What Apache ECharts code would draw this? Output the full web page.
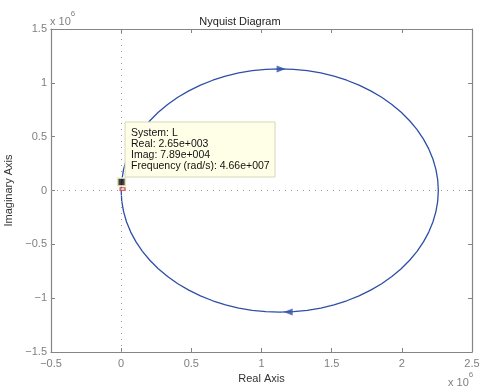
<!DOCTYPE html>
<html>
<head>
<meta charset="utf-8">
<script src="https://cdn.jsdelivr.net/npm/echarts@6/dist/echarts.min.js"></script>
<style>
  html, body { margin: 0; padding: 0; background: #fff; }
  #chart { width: 480px; height: 387px; }
</style>
</head>
<body>
<div id="chart"></div>
<script>
// Nyquist curve of L(jw), values in units of 1e6
// negative frequencies (upper half, origin -> right)
const upperRe = [0, 0.00265, 0.0172, 0.0385, 0.0681, 0.1059, 0.1514, 0.2043, 0.2644, 0.331, 0.4037, 0.4818, 0.565, 0.6525, 0.7435, 0.8376, 0.9338, 1.0315, 1.13,
                 1.2285, 1.3262, 1.4224, 1.5165, 1.6075, 1.695, 1.7782, 1.8563, 1.929, 1.9956, 2.0557, 2.1086, 2.1541, 2.1919, 2.2215, 2.2428, 2.2557, 2.26];
const upperIm = [0, 0.0789, 0.1962, 0.2924, 0.3865, 0.4775, 0.565, 0.6482, 0.7264, 0.799, 0.8656, 0.9257, 0.9786, 1.0241, 1.0619, 1.0915, 1.1128, 1.1257, 1.13,
                 1.1257, 1.1128, 1.0915, 1.0619, 1.0241, 0.9786, 0.9257, 0.8656, 0.799, 0.7264, 0.6482, 0.565, 0.4775, 0.3865, 0.2924, 0.1962, 0.0985, 0];
// positive frequencies (lower half, right -> origin)
const lowerRe = [2.26, 2.2557, 2.2428, 2.2215, 2.1919, 2.1541, 2.1086, 2.0557, 1.9956, 1.929, 1.8563, 1.7782, 1.695, 1.6075, 1.5165, 1.4224, 1.3262, 1.2285, 1.13,
                 1.0315, 0.9338, 0.8376, 0.7435, 0.6525, 0.565, 0.4818, 0.4037, 0.331, 0.2644, 0.2043, 0.1514, 0.1059, 0.0681, 0.0385, 0.0172, 0.0043, 0];
const lowerIm = [0, -0.0985, -0.1962, -0.2924, -0.3865, -0.4775, -0.565, -0.6482, -0.7264, -0.799, -0.8656, -0.9257, -0.9786, -1.0241, -1.0619, -1.0915, -1.1128, -1.1257, -1.13,
                 -1.1257, -1.1128, -1.0915, -1.0619, -1.0241, -0.9786, -0.9257, -0.8656, -0.799, -0.7264, -0.6482, -0.565, -0.4775, -0.3865, -0.2924, -0.1962, -0.0985, 0];

// direction arrows on the curve
const arrowRe = [1.14, 1.19];
const arrowIm = [1.128, -1.128];
const arrowRot = [-90, 90];

// data tip
const tipPoint = [0.00265, 0.0789];
const tipPointer = [0.01, 0.012];
const tipLines = ['System: L', 'Real: 2.65e+003', 'Imag: 7.89e+004', 'Frequency (rad/s): 4.66e+007'];

const xTicks = { min: -0.5, max: 2.5, step: 0.5 };
const yTicks = { min: -1.5, max: 1.5, step: 0.5 };

const FONT = 'Liberation Sans, Arial, Helvetica, sans-serif';
const AXIS_GRAY = '#858585';
const LABEL_GRAY = '#808080';
const LINE_BLUE = '#2f4fa6';

const fmt = v => String(Math.round(v * 10) / 10).replace('-', '\u2212');

const chart = echarts.init(document.getElementById('chart'), null, { renderer: 'canvas' });

const baseAxis = {
  type: 'value',
  axisLine: { show: true, onZero: false, lineStyle: { color: AXIS_GRAY, width: 1.2 } },
  axisTick: { show: true, inside: true, length: 4, lineStyle: { color: AXIS_GRAY } },
  splitLine: { show: false },
  axisLabel: { color: LABEL_GRAY, fontSize: 11, fontFamily: FONT, formatter: fmt }
};

const curve = [];
upperRe.forEach((r, i) => curve.push([r, upperIm[i]]));
lowerRe.forEach((r, i) => { if (i > 0) curve.push([r, lowerIm[i]]); });

const option = {
  animation: false,
  backgroundColor: '#fff',
  title: {
    text: 'Nyquist Diagram',
    left: 'center',
    top: 11,
    textStyle: { fontSize: 11, fontWeight: 'normal', color: '#222', fontFamily: FONT }
  },
  grid: { left: 51, right: 8, top: 29, bottom: 35, containLabel: false, outerBoundsMode: 'none' },
  xAxis: [
    Object.assign({}, baseAxis, {
      min: xTicks.min, max: xTicks.max, interval: xTicks.step, position: 'bottom',
      axisLabel: Object.assign({}, baseAxis.axisLabel, { margin: 6 }),
      name: 'Real Axis', nameLocation: 'middle', nameGap: 20,
      nameTextStyle: { color: '#333', fontSize: 11, fontFamily: FONT }
    }),
    Object.assign({}, baseAxis, {
      min: xTicks.min, max: xTicks.max, interval: xTicks.step, position: 'top',
      axisLabel: { show: false }
    })
  ],
  yAxis: [
    Object.assign({}, baseAxis, {
      min: yTicks.min, max: yTicks.max, interval: yTicks.step, position: 'left',
      axisLabel: Object.assign({}, baseAxis.axisLabel, { margin: 4 }),
      name: 'Imaginary Axis', nameLocation: 'middle', nameGap: 32,
      nameTextStyle: { color: '#333', fontSize: 11, fontFamily: FONT }
    }),
    Object.assign({}, baseAxis, {
      min: yTicks.min, max: yTicks.max, interval: yTicks.step, position: 'right',
      axisLabel: { show: false }
    })
  ],
  series: [
    {
      type: 'line',
      data: curve,
      showSymbol: false,
      symbol: 'none',
      lineStyle: { color: LINE_BLUE, width: 1.3 },
      z: 3,
      markLine: {
        silent: true,
        symbol: 'none',
        label: { show: false },
        lineStyle: { color: '#9a9a9a', type: [1, 5], width: 1 },
        data: [{ xAxis: 0 }, { yAxis: 0 }]
      }
    },
    {
      type: 'scatter',
      data: arrowRe.map((r, i) => ({ value: [r, arrowIm[i]], symbolRotate: arrowRot[i] })),
      symbol: 'triangle',
      symbolSize: [7, 9],
      itemStyle: { color: LINE_BLUE },
      z: 4
    },
    {
      type: 'scatter',
      data: [tipPointer],
      symbol: 'rect',
      symbolSize: [5, 3],
      itemStyle: { color: '#f4b6b6', borderColor: '#d03030', borderWidth: 1 },
      z: 5
    },
    {
      type: 'scatter',
      data: [tipPoint],
      symbol: 'rect',
      symbolSize: 8,
      itemStyle: { color: '#111', borderColor: '#f4f2cf', borderWidth: 2 },
      z: 6
    }
  ]
};

chart.setOption(option);

// data tip box, anchored to the marked point
const p = chart.convertToPixel({ xAxisIndex: 0, yAxisIndex: 0 }, tipPoint);
const boxW = 150, boxH = 55;
const boxX = p[0] + 3.5, boxY = p[1] - 5 - boxH;

const powerLabel = {
  text: '{a|x 10}{b|6}',
  rich: {
    a: { fontSize: 11, fontFamily: FONT, fill: LABEL_GRAY, padding: [6, 0, 0, 0] },
    b: { fontSize: 8, fontFamily: FONT, fill: LABEL_GRAY, verticalAlign: 'top' }
  }
};

chart.setOption({
  graphic: [
    {
      type: 'rect',
      shape: { x: boxX, y: boxY, width: boxW, height: boxH },
      style: { fill: '#ffffe8', stroke: '#d6d6bc', lineWidth: 1 },
      z: 10
    },
    {
      type: 'text',
      x: boxX + 6, y: boxY + 6,
      style: {
        text: tipLines.join('\n'),
        font: '10.5px ' + FONT,
        fill: '#111',
        lineHeight: 10.8
      },
      z: 11
    },
    { type: 'text', left: 50, top: 10, style: powerLabel },
    { type: 'text', left: 448, top: 371, style: powerLabel }
  ]
});
</script>
</body>
</html>
